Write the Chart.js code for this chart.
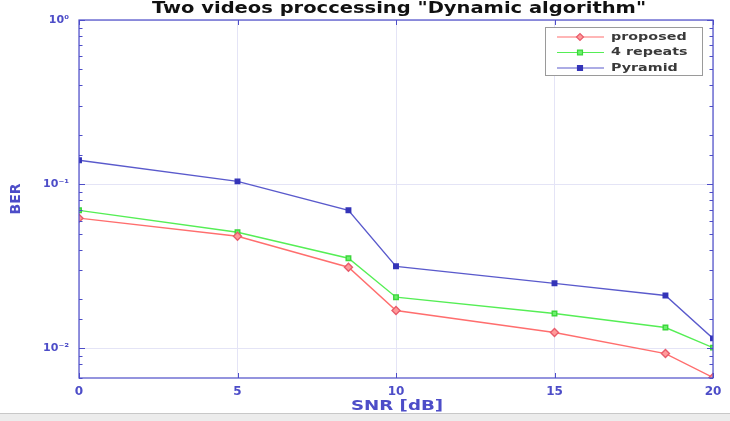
<!DOCTYPE html>
<html>
<head>
<meta charset="utf-8">
<script src="https://cdn.jsdelivr.net/npm/chart.js@4.4.1/dist/chart.umd.min.js"></script>
<style>
    body { margin: 0; background: #fff; }
    #wrap { width: 730px; height: 413px; position: relative; }
    #band { width: 730px; height: 8px; background: #ececec; border-top: 1px solid #c8c8c8; box-sizing: border-box; }
</style>
</head>
<body>
<div id="wrap"><canvas id="berChart" width="730" height="413"></canvas></div>
<div id="band"></div>
<script>
// SNR values (dB)
const snrValues = [0, 5, 8.5, 10, 15, 18.5, 20];

// BER per method
const proposedBer = [0.0621, 0.0482, 0.0312, 0.0170, 0.0125, 0.0093, 0.00665];
const repeatsBer = [0.0693, 0.0510, 0.0354, 0.0205, 0.0163, 0.0134, 0.0101];
const pyramidBer = [0.140, 0.104, 0.0693, 0.0316, 0.0249, 0.0210, 0.0115];

const seriesNames = ['proposed', '4 repeats', 'Pyramid'];
const xTickValues = [0, 5, 10, 15, 20];
const yMajorLabels = { '-2': '10\u207B\u00B2', '-1': '10\u207B\u00B9', '0': '10\u2070' };
const chartTitle = 'Two videos proccessing "Dynamic algorithm"';

const axisBlue = '#4d4dc8';
const gridColor = '#e4e4f6';
const fontFamily = '"DejaVu Sans", sans-serif';

function toPoints(values) {
    return snrValues.map((x, i) => ({ x: x, y: values[i] }));
}

function isDecade(v) {
    const l = Math.log10(v);
    return Math.abs(l - Math.round(l)) < 1e-6;
}

// the original figure is stretched sideways, so its text is wider than tall
function stretchedText(ctx, text, x, y, sx, align) {
    ctx.save();
    ctx.translate(x, y);
    ctx.scale(sx, 1);
    ctx.textAlign = align;
    ctx.textBaseline = 'middle';
    ctx.fillText(text, 0, 0);
    ctx.restore();
}

// box, inward minor ticks, title and legend
const framePlugin = {
    id: 'frame',
    afterDatasetsDraw(chart) {
        const ctx = chart.ctx;
        const a = chart.chartArea;
        const yScale = chart.scales.y;
        const xScale = chart.scales.x;
        ctx.save();
        ctx.strokeStyle = axisBlue;
        ctx.lineWidth = 1.2;
        ctx.strokeRect(a.left, a.top, a.right - a.left, a.bottom - a.top);

        ctx.lineWidth = 1;
        yScale.ticks.forEach(t => {
            const y = Math.round(yScale.getPixelForValue(t.value)) + 0.5;
            const len = isDecade(t.value) ? 6 : 3.5;
            ctx.beginPath();
            ctx.moveTo(a.left, y); ctx.lineTo(a.left + len, y);
            ctx.moveTo(a.right, y); ctx.lineTo(a.right - len, y);
            ctx.stroke();
        });
        xTickValues.forEach(v => {
            const x = Math.round(xScale.getPixelForValue(v)) + 0.5;
            ctx.beginPath();
            ctx.moveTo(x, a.bottom); ctx.lineTo(x, a.bottom - 5);
            ctx.moveTo(x, a.top); ctx.lineTo(x, a.top + 5);
            ctx.stroke();
        });

        // title
        ctx.fillStyle = '#111';
        ctx.font = 'bold 15px ' + fontFamily;
        stretchedText(ctx, chartTitle, 399, 9, 1.3, 'center');

        // x axis title
        ctx.fillStyle = axisBlue;
        ctx.font = 'bold 14px ' + fontFamily;
        stretchedText(ctx, 'SNR [dB]', 397, 406, 1.3, 'center');

        // legend
        const bx = 545, by = 27, bw = 157, bh = 48;
        ctx.fillStyle = '#fff';
        ctx.fillRect(bx, by, bw, bh);
        ctx.strokeStyle = '#9a9a9a';
        ctx.strokeRect(bx + 0.5, by + 0.5, bw, bh);
        chart.data.datasets.forEach((ds, i) => {
            const y = by + 10 + i * 15.5;
            ctx.strokeStyle = ds.borderColor;
            ctx.lineWidth = 1.2;
            ctx.beginPath();
            ctx.moveTo(557, y); ctx.lineTo(604, y);
            ctx.stroke();
            ctx.fillStyle = ds.pointBackgroundColor;
            ctx.strokeStyle = ds.pointBorderColor;
            Chart.helpers.drawPoint(ctx, {
                pointStyle: ds.pointStyle, radius: 3.5, borderWidth: 1
            }, 580, y);
            ctx.fillStyle = '#3a3a3a';
            ctx.font = 'bold 11px ' + fontFamily;
            stretchedText(ctx, ds.label, 611, y, 1.3, 'left');
        });
        ctx.restore();
    }
};

new Chart(document.getElementById('berChart'), {
    type: 'line',
    data: {
        datasets: [
            {
                label: seriesNames[0],
                data: toPoints(proposedBer),
                borderColor: '#ff6e6e',
                borderWidth: 1.4,
                pointStyle: 'rectRot',
                pointRadius: 4,
                pointBackgroundColor: '#ff9a9a',
                pointBorderColor: '#e85c6c',
                tension: 0
            },
            {
                label: seriesNames[1],
                data: toPoints(repeatsBer),
                borderColor: '#55ee55',
                borderWidth: 1.4,
                pointStyle: 'rect',
                pointRadius: 3.2,
                pointBackgroundColor: '#6cf06c',
                pointBorderColor: '#3cd63c',
                tension: 0
            },
            {
                label: seriesNames[2],
                data: toPoints(pyramidBer),
                borderColor: '#5a5acc',
                borderWidth: 1.4,
                pointStyle: 'rect',
                pointRadius: 3.2,
                pointBackgroundColor: '#3434b8',
                pointBorderColor: '#3434b8',
                tension: 0
            }
        ]
    },
    options: {
        responsive: false,
        animation: false,
        layout: { padding: { left: 8, right: 17, top: 20, bottom: 0 } },
        plugins: {
            legend: { display: false },
            tooltip: { enabled: false },
            title: { display: false }
        },
        scales: {
            x: {
                type: 'linear',
                min: 0,
                max: 20,
                afterBuildTicks: scale => {
                    scale.ticks = xTickValues.map(v => ({ value: v }));
                },
                afterFit: scale => { scale.height = 35; },
                border: { display: false },
                grid: { color: gridColor, drawTicks: false },
                ticks: {
                    color: axisBlue,
                    padding: 7,
                    font: { family: fontFamily, size: 12, weight: 'bold' }
                }
            },
            y: {
                type: 'logarithmic',
                min: 0.0066,
                max: 1,
                afterFit: scale => { scale.width = 71; },
                border: { display: false },
                grid: {
                    drawTicks: false,
                    color: ctx => (ctx.tick && isDecade(ctx.tick.value)) ? gridColor : 'rgba(0,0,0,0)'
                },
                ticks: {
                    color: axisBlue,
                    padding: 10,
                    autoSkip: false,
                    font: { family: fontFamily, size: 11, weight: 'bold' },
                    callback: v => {
                        if (!isDecade(v)) return '';
                        return yMajorLabels[String(Math.round(Math.log10(v)))] || '';
                    }
                },
                title: {
                    display: true,
                    text: 'BER',
                    color: axisBlue,
                    padding: { top: 0, bottom: 0 },
                    font: { family: fontFamily, size: 14, weight: 'bold' }
                }
            }
        }
    },
    plugins: [framePlugin]
});
</script>
</body>
</html>
